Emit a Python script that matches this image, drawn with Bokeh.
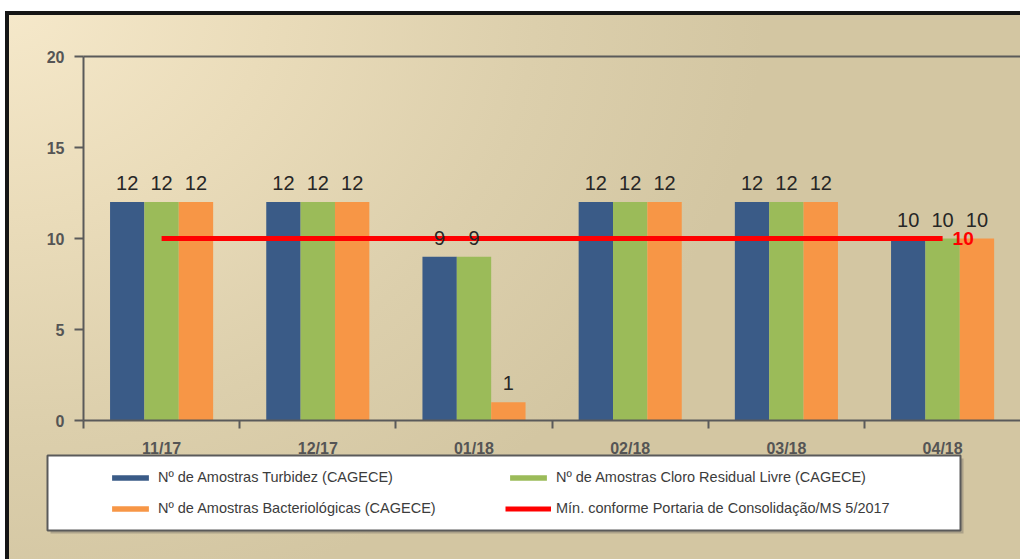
from bokeh.plotting import figure
from bokeh.models import (ColumnDataSource, Range1d, FixedTicker, Legend, LegendItem,
                          BoxAnnotation, LinearAxis)
from bokeh.core.properties import value
from bokeh.embed import file_html
from bokeh.resources import INLINE

# ---------------- data ----------------
categories = ["11/17", "12/17", "01/18", "02/18", "03/18", "04/18"]
turbidez = [12, 12, 9, 12, 12, 10]
cloro = [12, 12, 9, 12, 12, 10]
bacterio = [12, 12, 1, 12, 12, 10]
minimo = [10, 10, 10, 10, 10, 10]
series_names = [
    "Nº de Amostras Turbidez (CAGECE)",
    "Nº de Amostras Cloro Residual Livre (CAGECE)",
    "Nº de Amostras Bacteriológicas (CAGECE)",
]
min_name = "Mín. conforme Portaria de Consolidação/MS 5/2017"
y_ticks = [0, 5, 10, 15, 20]

# ---------------- style ----------------
FONT = "Liberation Sans"
COLORS = ["#3a5b87", "#9bbb59", "#f79646"]
RED = "#ff0000"
AXIS = "#5a5a5a"
W, H = 1020, 559
BAR_W = 0.22
OFFS = [-BAR_W, 0.0, BAR_W]

# pixel geometry of the reference (axes drawn at fixed locations inside the frame)
X0_PX, CAT_PX = 83.0, 156.2      # x=0 position, width of one category
Y0_PX, UNIT_PX = 420.0, 18.2     # y=0 position, pixels per unit

centers = [i + 0.5 for i in range(len(categories))]
n = len(categories)

x_range = Range1d(-X0_PX / CAT_PX, (W - X0_PX) / CAT_PX)
y_range = Range1d(-(H - Y0_PX) / UNIT_PX, Y0_PX / UNIT_PX)

p = figure(width=W, height=H, x_range=x_range, y_range=y_range,
           output_backend="svg", toolbar_location=None,
           x_axis_location=None, y_axis_location=None,
           min_border_left=0, min_border_top=0, min_border_bottom=0, min_border_right=0)

p.border_fill_color = None
p.border_fill_alpha = 0
p.background_fill_color = None
p.background_fill_alpha = 0
p.outline_line_color = None
p.grid.visible = False
p.styles = {
    "background": (
        "linear-gradient(#ffffff,#ffffff) 0 0/100% 11px no-repeat, "
        "linear-gradient(#ffffff,#ffffff) 0 0/5px 100% no-repeat, "
        "linear-gradient(#151515,#151515) 5px 11px/100% 4px no-repeat, "
        "linear-gradient(#151515,#151515) 5px 11px/4px 100% no-repeat, "
        "radial-gradient(ellipse 75% 110% at 0% 0%, #f6e9cb 0%, #eadcba 35%, #dccfac 70%, #d3c6a2 100%)"
    )
}

# y axis
yaxis = LinearAxis(fixed_location=0, bounds=(0, 20), ticker=FixedTicker(ticks=y_ticks),
                   axis_line_color=AXIS, axis_line_width=2,
                   major_tick_line_color=AXIS, major_tick_line_width=2,
                   major_tick_out=9, major_tick_in=0, minor_tick_line_color=None,
                   major_label_standoff=10, major_label_text_font=FONT,
                   major_label_text_font_size="16px", major_label_text_font_style="bold",
                   major_label_text_color="#555555")
p.add_layout(yaxis, "left")

# x axis
xaxis = LinearAxis(fixed_location=0, bounds=(0, n),
                   ticker=FixedTicker(ticks=centers, minor_ticks=list(range(n + 1))),
                   major_label_overrides={c: lab for c, lab in zip(centers, categories)},
                   axis_line_color=AXIS, axis_line_width=2,
                   major_tick_line_color=None, major_tick_out=0, major_tick_in=0,
                   minor_tick_line_color=AXIS, minor_tick_line_width=2,
                   minor_tick_out=8, minor_tick_in=0,
                   major_label_standoff=11, major_label_text_font=FONT,
                   major_label_text_font_size="16px", major_label_text_font_style="bold",
                   major_label_text_color="#555555")
p.add_layout(xaxis, "below")

# top frame line
top_axis = LinearAxis(fixed_location=20, bounds=(0, n), axis_line_color=AXIS, axis_line_width=2,
                      major_tick_line_color=None, minor_tick_line_color=None,
                      major_label_text_font_size="0px", major_label_text_alpha=0)
p.add_layout(top_axis, "above")

# bars
renderers = []
for vals, off, col in zip([turbidez, cloro, bacterio], OFFS, COLORS):
    src = ColumnDataSource(dict(x=[c + off for c in centers], top=vals))
    r = p.vbar(x="x", top="top", width=BAR_W, bottom=0, source=src,
               fill_color=col, line_color=None)
    renderers.append(r)

# minimum line
r_min = p.line(x=centers, y=minimo, line_color=RED, line_width=5)

# value labels
for vals, off in zip([turbidez, cloro, bacterio], OFFS):
    p.text(x=[c + off for c in centers], y=vals, text=[str(v) for v in vals],
           text_align="center", text_baseline="alphabetic", y_offset=-19,
           text_font=value(FONT), text_font_size="20px", text_color="#262626")

p.text(x=[centers[-1]], y=[minimo[-1]], text=[str(minimo[-1])],
       text_align="left", text_baseline="middle", x_offset=10,
       text_font=value(FONT), text_font_size="19px", text_font_style="bold",
       text_color=RED)

# legend box (screen units, relative to the frame's bottom-left corner)
shadow = BoxAnnotation(left=50, right=963, top=101, bottom=26,
                       left_units="screen", right_units="screen",
                       top_units="screen", bottom_units="screen",
                       fill_color="#8a8474", fill_alpha=0.55, line_color=None)
box = BoxAnnotation(left=47, right=960, top=104, bottom=29,
                    left_units="screen", right_units="screen",
                    top_units="screen", bottom_units="screen",
                    fill_color="#ffffff", fill_alpha=1.0,
                    line_color="#5a5a5a", line_width=2, line_alpha=1.0)
p.add_layout(shadow)
p.add_layout(box)

legend = Legend(
    items=[
        LegendItem(label=series_names[0], renderers=[renderers[0]]),
        LegendItem(label=series_names[1], renderers=[renderers[1]]),
        LegendItem(label=series_names[2], renderers=[renderers[2]]),
        LegendItem(label=min_name, renderers=[r_min]),
    ],
    location=(107, 41), orientation="horizontal", ncols=2,
    padding=0, spacing=11, margin=0,
    glyph_width=46, glyph_height=7, label_height=20, label_width=336, label_standoff=5,
    background_fill_alpha=0, border_line_alpha=0,
    label_text_font=FONT, label_text_font_size="14.5px", label_text_color="#3c3c3c",
)
p.add_layout(legend, "center")

open("out.html", "w").write(file_html(p, INLINE))
